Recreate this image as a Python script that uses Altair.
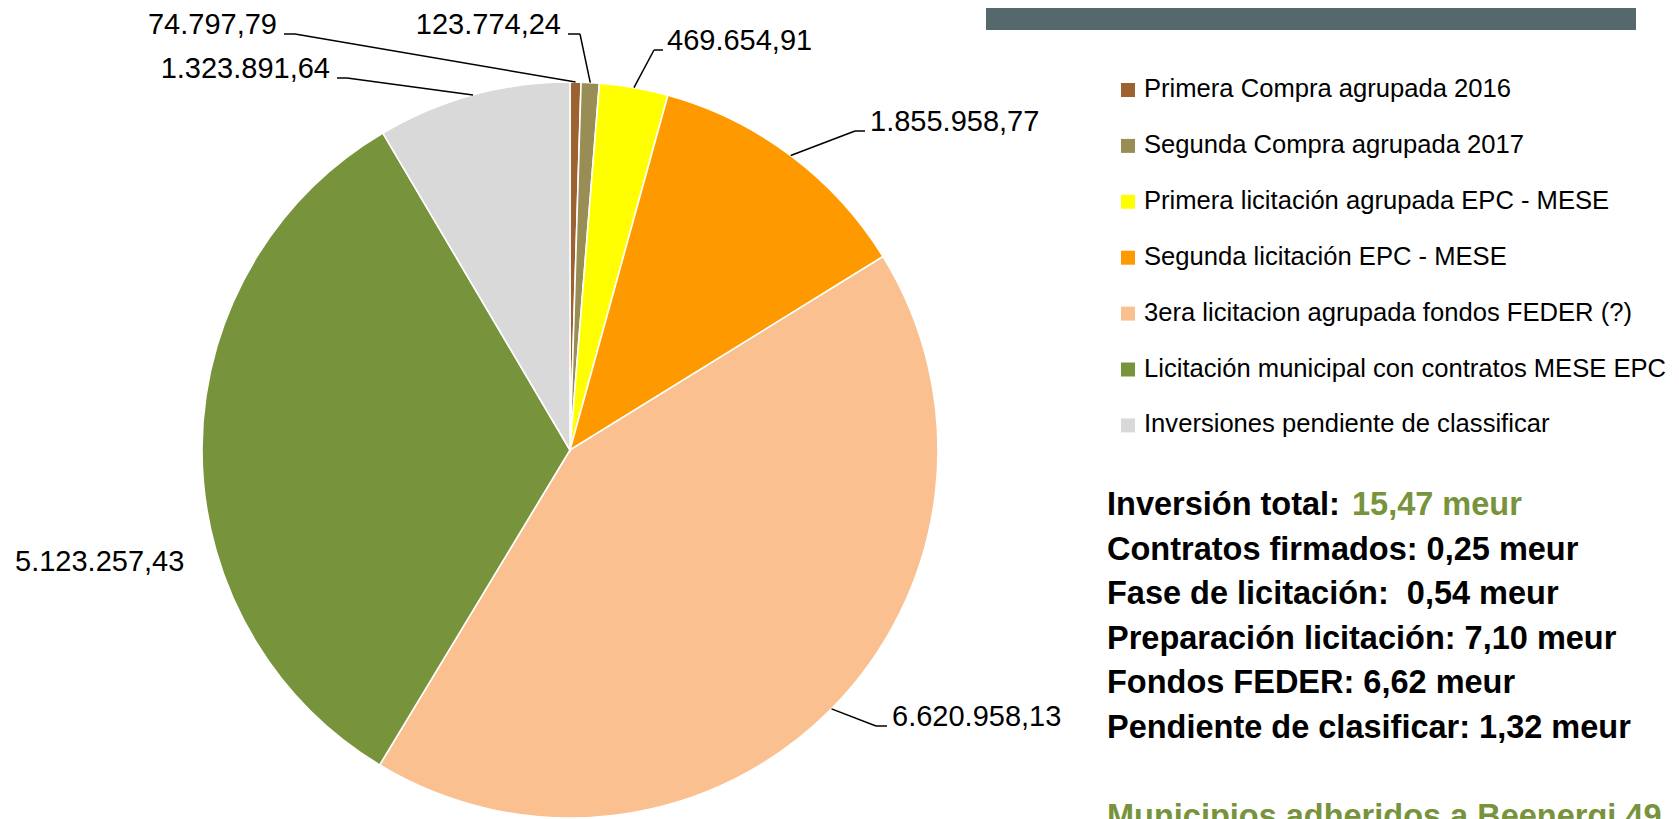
import altair as alt
import pandas as pd

# ---------------- data ----------------
categories = [
    "Primera Compra agrupada 2016",
    "Segunda Compra agrupada 2017",
    "Primera licitación agrupada EPC - MESE",
    "Segunda licitación EPC - MESE",
    "3era licitacion agrupada fondos FEDER (?)",
    "Licitación municipal con contratos MESE EPC",
    "Inversiones pendiente de classificar",
]
values = [74797.79, 123774.24, 469654.91, 1855958.77, 6620958.13, 5123257.43, 1323891.64]
colors = ["#9C6230", "#988D55", "#FFFF00", "#FF9900", "#FAC090", "#77933C", "#D9D9D9"]

summary_lines = [
    "Inversión total:",
    "Contratos firmados: 0,25 meur",
    "Fase de licitación:\u00a0 0,54 meur",
    "Preparación licitación: 7,10 meur",
    "Fondos FEDER: 6,62 meur",
    "Pendiente de clasificar: 1,32 meur",
    "",
    "Municipios adheridos a Beenergi 49",
]
summary_green = [False, False, False, False, False, False, False, True]
total_value_text = "15,47 meur"

# ---------------- layout (pixels, not data) ----------------
W, H = 1663, 811
CX, CY, R = 562, 442, 368
FONT = "Liberation Sans"
GREEN = "#77933C"

# label layout per slice: text x, baseline y, align, leader elbow x, leader end x
label_text_x = [269, 553, 659, 862, 884, 7, 322]
label_base_y = [26, 26, 42, 123, 718, 563, 70]
label_align = ["right", "right", "left", "left", "left", "left", "right"]
leader_elbow_x = [287, 572, 646, 847, 868, None, 339]
leader_end_x = [276, 560, 655, 857, 879, None, 329]

LEG_SYM_X, LEG_TXT_X, LEG_Y0, LEG_PITCH = 1120, 1136, 89, 55.9
SUM_X, SUM_Y0, SUM_PITCH, SUM_GREEN_X = 1099, 507, 44.6, 1344


def fmt_es(v):
    s = f"{v:,.2f}"
    return s.replace(",", "#").replace(".", ",").replace("#", ".")


pie_df = pd.DataFrame({"cat": categories, "value": values, "idx": list(range(len(values)))})
pie_df["label"] = [fmt_es(v) for v in values]
pie_df["tx"] = label_text_x
pie_df["ty"] = label_base_y
pie_df["align"] = label_align
pie_df["ex"] = leader_elbow_x
pie_df["ex2"] = leader_end_x

color_enc = alt.Color("cat:N", scale=alt.Scale(domain=categories, range=colors), legend=None)

pie = alt.Chart(pie_df).mark_arc(radius=R, stroke="white", strokeWidth=1.6).encode(
    theta=alt.Theta("value:Q", stack=True),
    order=alt.Order("idx:Q"),
    color=color_enc,
    x=alt.value(CX),
    y=alt.value(CY),
)

leader_base = (
    alt.Chart(pie_df)
    .transform_window(cum="sum(value)", sort=[alt.SortField("idx")], frame=[None, 0])
    .transform_joinaggregate(total="sum(value)")
    .transform_calculate(
        mid="(datum.cum - datum.value / 2) / datum.total * 2 * PI",
    )
    .transform_calculate(
        sx=f"{CX} + {R} * sin(datum.mid)",
        sy=f"{CY} - {R} * cos(datum.mid)",
    )
    .transform_filter("isValid(datum.ex)")
)

leader1 = leader_base.mark_rule(color="black", strokeWidth=1.5).encode(
    x=alt.X("sx:Q", scale=None, axis=None),
    y=alt.Y("sy:Q", scale=None, axis=None),
    x2="ex:Q",
    y2="ty:Q",
)
leader2 = leader_base.mark_rule(color="black", strokeWidth=1.5).encode(
    x=alt.X("ex:Q", scale=None, axis=None),
    y=alt.Y("ty:Q", scale=None, axis=None),
    x2="ex2:Q",
    y2="ty:Q",
)


def label_layer(al):
    return (
        alt.Chart(pie_df)
        .transform_filter(f"datum.align == '{al}'")
        .mark_text(align=al, baseline="alphabetic", font=FONT, fontSize=29, color="black")
        .encode(
            x=alt.X("tx:Q", scale=None, axis=None),
            y=alt.Y("ty:Q", scale=None, axis=None),
            text="label:N",
        )
    )


labels_r = label_layer("right")
labels_l = label_layer("left")

leg_df = pd.DataFrame({"cat": categories, "i": list(range(len(categories)))})
leg_sym = (
    alt.Chart(leg_df)
    .transform_calculate(yy=f"{LEG_Y0} - 7 + datum.i * {LEG_PITCH}")
    .mark_square(size=196, opacity=1)
    .encode(x=alt.value(LEG_SYM_X), y=alt.Y("yy:Q", scale=None, axis=None), color=color_enc)
)
leg_txt = (
    alt.Chart(leg_df)
    .transform_calculate(yy=f"{LEG_Y0} + datum.i * {LEG_PITCH}")
    .mark_text(align="left", baseline="alphabetic", font=FONT, fontSize=25.6, color="black")
    .encode(x=alt.value(LEG_TXT_X), y=alt.Y("yy:Q", scale=None, axis=None), text="cat:N")
)

sum_df = pd.DataFrame({
    "line": summary_lines,
    "i": list(range(len(summary_lines))),
    "col": [GREEN if g else "black" for g in summary_green],
})
sum_txt = (
    alt.Chart(sum_df)
    .transform_calculate(yy=f"{SUM_Y0} + datum.i * {SUM_PITCH}")
    .mark_text(align="left", baseline="alphabetic", font=FONT, fontSize=32.5, fontWeight="bold")
    .encode(
        x=alt.value(SUM_X),
        y=alt.Y("yy:Q", scale=None, axis=None),
        text="line:N",
        color=alt.Color("col:N", scale=None),
    )
)
tot_df = pd.DataFrame({"t": [total_value_text]})
tot_txt = alt.Chart(tot_df).mark_text(
    align="left", baseline="alphabetic", font=FONT, fontSize=32.5, fontWeight="bold", color=GREEN
).encode(x=alt.value(SUM_GREEN_X), y=alt.value(SUM_Y0), text="t:N")

banner = alt.Chart(pd.DataFrame({"a": [0]})).mark_rect(color="#55696D").encode(
    x=alt.value(978), x2=alt.value(1628), y=alt.value(0), y2=alt.value(22)
)

chart = (
    alt.layer(banner, pie, leader1, leader2, labels_r, labels_l, leg_sym, leg_txt, sum_txt, tot_txt)
    .properties(width=W, height=H, padding=0, autosize=alt.AutoSizeParams(type="none"), background="white")
    .configure_view(stroke=None)
)

chart.save("out.html", embed_options={"renderer": "svg", "actions": False})
